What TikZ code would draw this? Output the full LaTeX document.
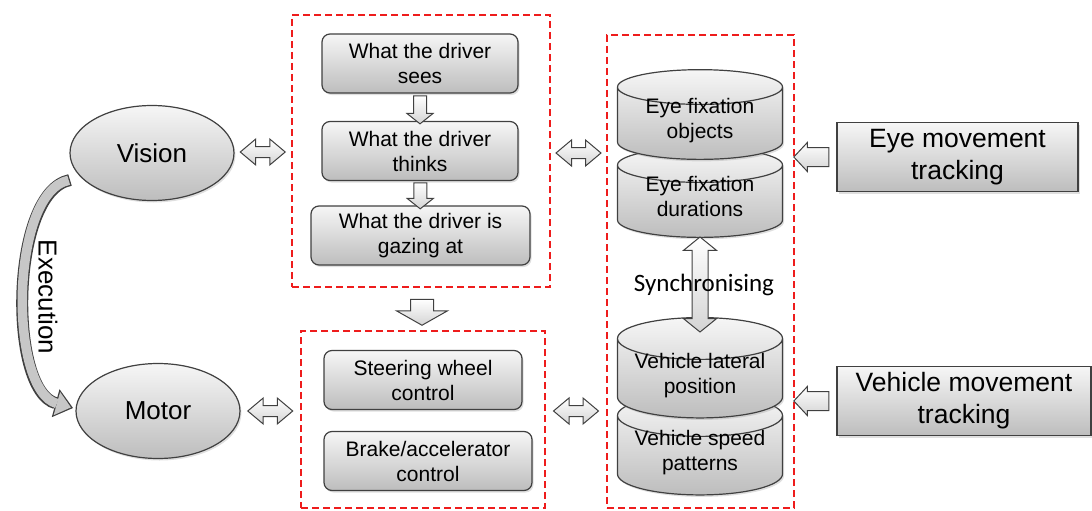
\documentclass[tikz,border=0pt]{standalone}
\usepackage{fontspec}
\setmainfont{Liberation Sans}
\newfontfamily\calfont{Carlito}
\usetikzlibrary{shapes.geometric,shapes.arrows,shadows,calc,arrows.meta}
\definecolor{edgegray}{HTML}{404040}
\definecolor{lightfill}{HTML}{F6F6F6}
\definecolor{darkfill}{HTML}{BDBDBD}
\definecolor{arrowfill}{HTML}{D4D4D4}
\definecolor{framered}{HTML}{EE1C1C}

\begin{document}
\begin{tikzpicture}[x=1pt,y=-1pt,
    shadebox/.style={draw=edgegray, line width=1.2pt, top color=lightfill, bottom color=darkfill,
      drop shadow={shadow xshift=1.5pt,shadow yshift=-2pt,opacity=0.25}},
    mindnode/.style={shadebox, ellipse, minimum width=164pt, minimum height=95pt, inner sep=0pt,
      font=\fontsize{26}{30}\selectfont},
    stepbox/.style={shadebox, rectangle, rounded corners=8pt, minimum height=59pt, align=center,
      inner sep=0pt, font=\fontsize{21}{25}\selectfont},
    trackbox/.style={shadebox, rectangle, minimum height=69pt, align=center, inner sep=0pt,
      font=\fontsize{26.5}{32}\selectfont},
    database/.style={shadebox, cylinder, shape border rotate=90, aspect=0.32, minimum width=165pt,
      minimum height=77pt, align=center, inner sep=0pt, text height=33.5pt, text depth=3.5pt,
      font=\fontsize{21}{25}\selectfont},
    redframe/.style={draw=framered, line width=2.2pt, dash pattern=on 7pt off 4pt, rectangle, inner sep=0pt},
    fatarrow/.style={draw=edgegray, line width=1pt, top color=white, bottom color=arrowfill,
      inner xsep=0pt, text height=0pt, text depth=0pt},
    twoway/.style={fatarrow, double arrow, double arrow tip angle=80, double arrow head extend=7.5pt,
      inner ysep=5pt, minimum height=45pt},
    oneway/.style={fatarrow, single arrow, single arrow tip angle=94, single arrow head extend=5pt,
      inner ysep=9pt, minimum height=35pt}
  ]
  \useasboundingbox (0,0) rectangle (1092,511);

  % dashed groups
  \node[redframe, minimum width=258pt, minimum height=272pt] (frame1) at (421,151) {};
  \node[redframe, minimum width=244pt, minimum height=177pt] (frame2) at (423,419.5) {};
  \node[redframe, minimum width=187pt, minimum height=473pt] (frame3) at (700.5,271.5) {};

  \node[mindnode] (vision) at (152,153) {Vision};
  \node[mindnode] (motor) at (158,411) {Motor};

  \node[stepbox, minimum width=196pt] (sees) at (420,63.5) {What the driver\\sees};
  \node[stepbox, minimum width=196pt] (thinks) at (420,151) {What the driver\\thinks};
  \node[stepbox, minimum width=219pt] (gazing) at (420.5,235.5) {What the driver is\\gazing at};
  \node[stepbox, minimum width=198pt] (steering) at (423,380) {Steering wheel\\control};
  \node[stepbox, minimum width=208pt] (brake) at (428,461) {Brake/accelerator\\control};

  \node[database] (eyedur) at (700,201.5) {Eye fixation\\durations};
  \node[database] (eyeobj) at (700,123.5) {Eye fixation\\objects};
  \node[database] (vehspd) at (700,455.5) {Vehicle speed\\patterns};
  \node[database] (vehlat) at (700,378.5) {Vehicle lateral\\position};

  \node[trackbox, minimum width=241pt] (eyetrack) at (957.5,157) {Eye movement\\tracking};
  \node[trackbox, minimum width=254pt] (vehtrack) at (964,401) {Vehicle movement\\tracking};

  % block arrows
  \node[twoway] (visarrow) at ($(vision.east)!0.5!(frame1.west)$) {};
  \node[twoway] (motarrow) at ($(motor.east)!0.5!(motor.east -| frame2.west)$) {};
  \node[twoway] (thinkarrow) at ($(frame1.east |- vision)!0.5!(frame3.west |- vision)$) {};
  \node[twoway] (ctrlarrow) at ($(frame2.east |- motor)!0.5!(frame3.west |- motor)$) {};
  \node[oneway, shape border rotate=180] (eyearrow) at ($(frame3.east |- eyetrack)!0.5!(eyetrack.west)$) {};
  \node[oneway, shape border rotate=180] (veharrow) at ($(frame3.east |- vehtrack)!0.5!(vehtrack.west)$) {};
  \node[oneway, shape border rotate=270, single arrow tip angle=103, single arrow head extend=6.5pt,
    inner xsep=6pt, inner ysep=0pt, minimum height=28pt] (seesarrow) at ($(sees.south)!0.5!(thinks.north)$) {};
  \node[oneway, shape border rotate=270, single arrow tip angle=103, single arrow head extend=6.5pt,
    inner xsep=6pt, inner ysep=0pt, minimum height=26pt] (thinksarrow) at ($(thinks.south)!0.5!(gazing.north)$) {};
  \node[oneway, shape border rotate=270, single arrow tip angle=121, single arrow head extend=14pt,
    inner xsep=11pt, inner ysep=0pt, minimum height=26pt] (downarrow) at ($(frame1.south)!0.5!(frame2.north)$) {};
  \node[twoway, shape border rotate=90, double arrow tip angle=102, double arrow head extend=8.5pt,
    inner xsep=7.5pt, inner ysep=0pt, minimum height=95pt] (syncarrow) at (700,284.5) {};
  \node[font=\calfont\fontsize{25}{30}\selectfont, xshift=4pt] (synclabel) at (syncarrow) {Synchronising};

  % execution
  \coordinate (exstart) at (70,180);
  \coordinate (exend) at (73,408);
  \draw[edgegray, line width=12pt, -{Triangle[length=18pt,width=29pt,line width=0pt]}]
    (exstart) .. controls (10,192) and (8,390) .. (exend);
  \draw[arrowfill!85!gray, line width=9.5pt, shorten <=1.3pt, shorten >=2.2pt,
    -{Triangle[length=14.5pt,width=24pt,line width=0pt]}]
    (exstart) .. controls (10,192) and (8,390) .. (exend);
  \node[rotate=-90, font=\fontsize{26}{30}\selectfont] (execlabel) at (48,297) {Execution};
\end{tikzpicture}
\end{document}
